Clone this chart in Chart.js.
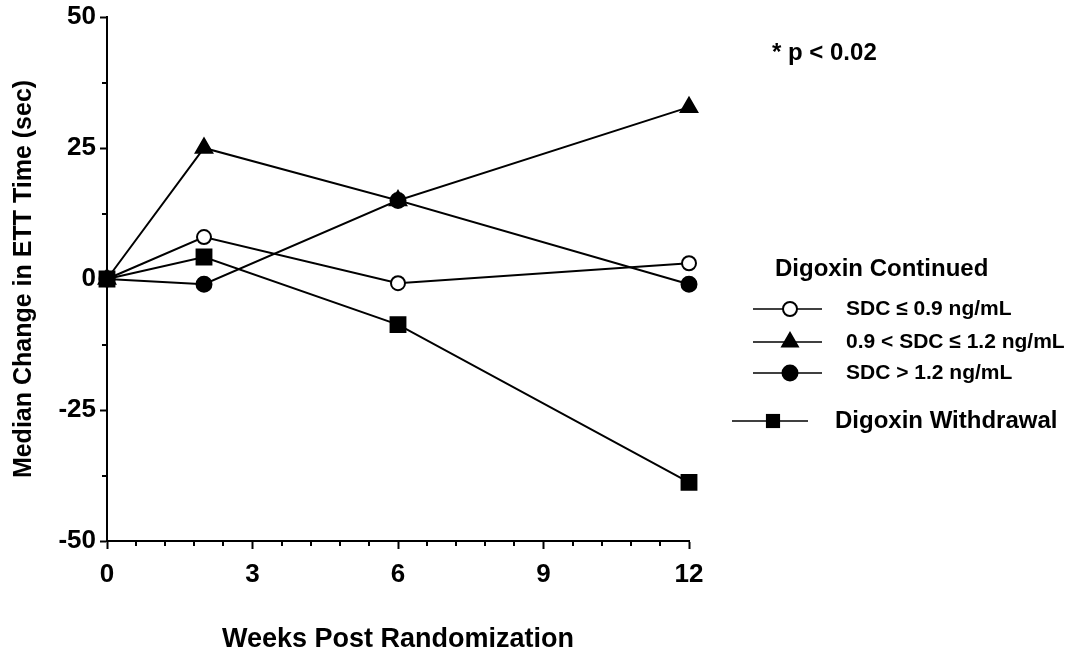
<!DOCTYPE html>
<html>
<head>
<meta charset="utf-8">
<title>Median Change in ETT Time</title>
<script src="https://cdn.jsdelivr.net/npm/chart.js@4/dist/chart.umd.min.js"></script>
<style>
  html, body { margin: 0; padding: 0; background: #fff; }
  #wrap { width: 1068px; height: 650px; position: relative; }
</style>
</head>
<body>
<div id="wrap"><canvas id="chart"></canvas></div>
<script>
/* Median change in ETT time by week, digoxin continued vs withdrawn */

const FONT = '"Liberation Sans", Arial, Helvetica, sans-serif';

const weeks       = [0, 2, 6, 12];
const sdcLow      = [0, 8, -0.8, 3];        // SDC <= 0.9
const sdcMid      = [0, 25, 15, 32.8];      // 0.9 < SDC <= 1.2
const sdcHigh     = [0, -1, 15, -1];        // SDC > 1.2
const withdrawal  = [0, 4.2, -8.7, -38.8];

const xTicks      = [0, 3, 6, 9, 12];
const yTicks      = [-50, -25, 0, 25, 50];
const xMinorTicks = [0.6, 1.2, 1.8, 2.4, 3.6, 4.2, 4.8, 5.4, 6.6, 7.2, 7.8, 8.4, 9.6, 10.2, 10.8, 11.4];
const yMinorTicks = [-37.5, -12.5, 12.5, 37.5];

const legendTitle = 'Digoxin Continued';
const legendItems = ['SDC \u2264 0.9 ng/mL', '0.9 < SDC \u2264 1.2 ng/mL', 'SDC > 1.2 ng/mL'];
const withdrawalLabel = 'Digoxin Withdrawal';
const noteText = '* p < 0.02';

function pts(ys) {
  return weeks.map((w, i) => ({ x: w, y: ys[i] }));
}

function series(label, ys, style, fill, radius, order) {
  return {
    label,
    data: pts(ys),
    borderColor: '#000',
    borderWidth: 2,
    pointStyle: style,
    pointRadius: radius,
    pointHoverRadius: radius,
    pointBackgroundColor: fill,
    pointBorderColor: '#000',
    pointBorderWidth: 2,
    tension: 0,
    clip: false,
    order,
  };
}

/* minor ticks + custom legend + p-value note */
const extras = {
  id: 'extras',
  afterDraw(chart) {
    const ctx = chart.ctx;
    const xs = chart.scales.x, ys = chart.scales.y;
    const a = chart.chartArea;

    ctx.save();
    ctx.strokeStyle = '#000';
    ctx.lineWidth = 2;
    ctx.beginPath();
    xMinorTicks.forEach(v => {
      const px = Math.round(xs.getPixelForValue(v));
      ctx.moveTo(px, a.bottom);
      ctx.lineTo(px, a.bottom + 5);
    });
    yMinorTicks.forEach(v => {
      const py = Math.round(ys.getPixelForValue(v));
      ctx.moveTo(a.left - 5, py);
      ctx.lineTo(a.left, py);
    });
    ctx.stroke();

    ctx.fillStyle = '#000';
    ctx.textBaseline = 'middle';
    ctx.textAlign = 'left';

    ctx.font = 'bold 24px ' + FONT;
    ctx.fillText(noteText, a.right + 83, 53);

    ctx.font = 'bold 24px ' + FONT;
    ctx.fillText(legendTitle, a.right + 86, 269);

    const rows = [309, 342, 373];
    const styles = [
      { pointStyle: 'circle', radius: 7, fill: '#fff' },
      { pointStyle: 'triangle', radius: 9, fill: '#000' },
      { pointStyle: 'circle', radius: 7.5, fill: '#000' },
    ];
    ctx.font = 'bold 21px ' + FONT;
    rows.forEach((y, i) => {
      ctx.lineWidth = 1.5;
      ctx.beginPath();
      ctx.moveTo(a.right + 64, y);
      ctx.lineTo(a.right + 133, y);
      ctx.stroke();
      ctx.fillStyle = styles[i].fill;
      ctx.lineWidth = 2;
      Chart.helpers.drawPoint(ctx, { pointStyle: styles[i].pointStyle, radius: styles[i].radius, borderWidth: 2, rotation: 0 }, a.right + 101, y);
      ctx.fillStyle = '#000';
      ctx.fillText(legendItems[i], a.right + 157, y);
    });

    ctx.lineWidth = 1.5;
    ctx.beginPath();
    ctx.moveTo(a.right + 43, 421);
    ctx.lineTo(a.right + 119, 421);
    ctx.stroke();
    ctx.fillStyle = '#000';
    Chart.helpers.drawPoint(ctx, { pointStyle: 'rect', radius: 10, borderWidth: 0, rotation: 0 }, a.right + 84, 421);
    ctx.font = 'bold 24px ' + FONT;
    ctx.fillText(withdrawalLabel, a.right + 146, 421);
    ctx.restore();
  }
};

new Chart(document.getElementById('chart'), {
  type: 'line',
  data: {
    datasets: [
      series(legendItems[0], sdcLow, 'circle', '#fff', 7, 2),
      series(legendItems[1], sdcMid, 'triangle', '#000', 9.5, 3),
      series(legendItems[2], sdcHigh, 'circle', '#000', 7.5, 1),
      series(withdrawalLabel, withdrawal, 'rect', '#000', 10.5, 0),
    ],
  },
  options: {
    responsive: true,
    maintainAspectRatio: false,
    animation: false,
    layout: { padding: { left: 0, right: 379, top: 13, bottom: 0 } },
    plugins: { legend: { display: false }, tooltip: { enabled: false } },
    scales: {
      x: {
        type: 'linear',
        min: 0, max: 12,
        afterFit(s) { s.height = 109; },
        afterBuildTicks(s) { s.ticks = xTicks.map(v => ({ value: v })); },
        border: { color: '#000', width: 2 },
        grid: { drawOnChartArea: false, tickLength: 8, tickColor: '#000', tickWidth: 2 },
        ticks: { color: '#000', padding: 13, maxRotation: 0, font: { family: FONT, size: 26, weight: 'bold', lineHeight: 1 } },
        title: {
          display: true,
          text: 'Weeks Post Randomization',
          color: '#000',
          padding: 0,
          font: { family: FONT, size: 27, weight: 'bold', lineHeight: 0.8 },
        },
      },
      y: {
        min: -50, max: 50,
        afterFit(s) { s.width = 107; },
        afterBuildTicks(s) { s.ticks = yTicks.map(v => ({ value: v })); },
        border: { color: '#000', width: 2 },
        grid: { drawOnChartArea: false, tickLength: 7, tickColor: '#000', tickWidth: 2 },
        ticks: { color: '#000', padding: 4, font: { family: FONT, size: 26, weight: 'bold', lineHeight: 1 } },
        title: {
          display: true,
          text: 'Median Change in ETT Time (sec)',
          color: '#000',
          padding: { top: 9 },
          font: { family: FONT, size: 25, weight: 'bold', lineHeight: 1.2 },
        },
      },
    },
  },
  plugins: [extras],
});
</script>
</body>
</html>
